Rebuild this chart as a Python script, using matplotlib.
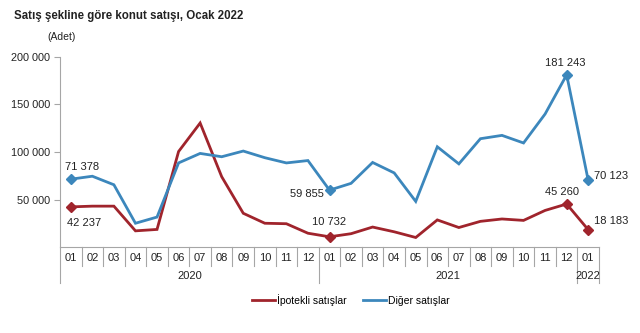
import matplotlib
matplotlib.use("Agg")
import matplotlib.pyplot as plt
import matplotlib.transforms as mtransforms
import numpy as np

plt.rcParams["font.family"] = ["Liberation Sans", "DejaVu Sans"]

# —— veri ——
months = ["01", "02", "03", "04", "05", "06", "07", "08", "09", "10", "11", "12"] * 2 + ["01"]
years = ["2020", "2021", "2022"]
year_len = [12, 12, 1]

ipotekli = [42237, 43000, 43000, 17000, 18500, 100500, 130500, 74000, 35500, 25000, 24500, 14500,
            10732, 14000, 21000, 16000, 10000, 28500, 20500, 27000, 29500, 28000, 38500, 45260,
            18183]
diger = [71378, 74500, 65500, 25000, 31500, 88500, 98500, 95000, 101000, 94000, 88500, 91000,
         59855, 67000, 89000, 78000, 48000, 105500, 87500, 114000, 117500, 109500, 140000, 181243,
         70123]

RED = "#A0242C"
BLUE = "#3C87BC"
GRID = "#A6A6A6"

fig = plt.figure(figsize=(6.4, 3.33), dpi=100)
ax = fig.add_axes([60 / 640, 1 - 247 / 333, 539 / 640, 190 / 333])

x = np.arange(len(months)) + 0.5
ax.plot(x, ipotekli, color=RED, lw=2.0, label="İpotekli satışlar", solid_joinstyle="miter")
ax.plot(x, diger, color=BLUE, lw=2.0, label="Diğer satışlar", solid_joinstyle="miter")

# etiketli noktalar
mark_idx = [0, 12, 23, 24]
ax.plot(x[mark_idx], [ipotekli[i] for i in mark_idx], ls="none", marker="D", ms=5, color=RED)
ax.plot(x[mark_idx], [diger[i] for i in mark_idx], ls="none", marker="D", ms=5, color=BLUE)

def fmt(v):
    return f"{v:,}".replace(",", " ")

lab_kw = dict(fontsize=8, color="#222222")
ax.annotate(fmt(diger[0]), (x[0], diger[0]), xytext=(-4, 5), textcoords="offset points", ha="left", va="bottom", **lab_kw)
ax.annotate(fmt(ipotekli[0]), (x[0], ipotekli[0]), xytext=(-3, -8), textcoords="offset points", ha="left", va="top", **lab_kw)
ax.annotate(fmt(diger[12]), (x[12], diger[12]), xytext=(-4, -3), textcoords="offset points", ha="right", va="center", **lab_kw)
ax.annotate(fmt(ipotekli[12]), (x[12], ipotekli[12]), xytext=(0, 7), textcoords="offset points", ha="center", va="bottom", **lab_kw)
ax.annotate(fmt(diger[23]), (x[23], diger[23]), xytext=(-1, 5), textcoords="offset points", ha="center", va="bottom", **lab_kw)
ax.annotate(fmt(ipotekli[23]), (x[23], ipotekli[23]), xytext=(-3, 5), textcoords="offset points", ha="center", va="bottom", **lab_kw)
ax.annotate(fmt(diger[24]), (x[24], diger[24]), xytext=(4, 3), textcoords="offset points", ha="left", va="center", **lab_kw)
ax.annotate(fmt(ipotekli[24]), (x[24], ipotekli[24]), xytext=(4, 6), textcoords="offset points", ha="left", va="center", **lab_kw)

ax.set_xlim(0, len(months))
ax.set_ylim(0, 200000)
ax.set_yticks([50000, 100000, 150000, 200000])
ax.set_yticklabels([fmt(v) for v in [50000, 100000, 150000, 200000]], fontsize=7.8, color="#222222")
ax.tick_params(axis="y", length=4, color=GRID, pad=3)
ax.set_xticks([])
for s in ["top", "right"]:
    ax.spines[s].set_visible(False)
ax.spines["left"].set_color(GRID)
ax.spines["bottom"].set_color(GRID)

# kategori ekseni: ay ve yıl
trans = mtransforms.blended_transform_factory(ax.transData, ax.transAxes)
for i, m in enumerate(months):
    ax.text(i + 0.5, -0.058, m, transform=trans, ha="center", va="center", fontsize=8, color="#222222")
year_edges = np.concatenate([[0], np.cumsum(year_len)])
for k in range(len(months) + 1):
    bottom = -0.19 if k in year_edges else -0.1
    ax.plot([k, k], [0, bottom], transform=trans, color=GRID, lw=0.8, clip_on=False)
for y, a, b in zip(years, year_edges[:-1], year_edges[1:]):
    ax.text((a + b) / 2, -0.155, y, transform=trans, ha="center", va="center", fontsize=8, color="#222222")

fig.text(14 / 640, 1 - 16 / 333, "Satış şekline göre konut satışı, Ocak 2022", fontsize=8.3,
         fontweight="bold", ha="left", va="center", color="#222222")
fig.text(47 / 640, 1 - 37 / 333, "(Adet)", fontsize=7.5, ha="left", va="center", color="#222222")

ax.legend(loc="center", bbox_to_anchor=(0.54, -0.28), ncol=2, frameon=False, fontsize=7.5,
          handlelength=2.2, handletextpad=0.2, columnspacing=1.6)

fig.savefig("out.png", dpi=100)
